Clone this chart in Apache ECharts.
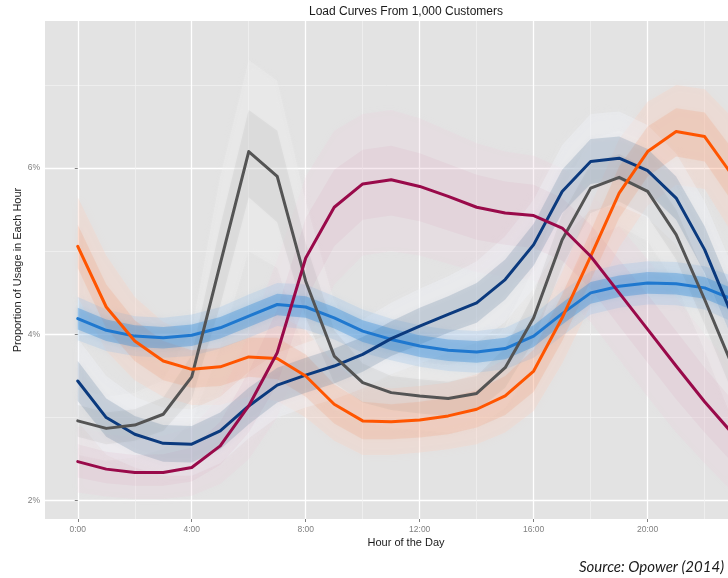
<!DOCTYPE html>
<html><head><meta charset="utf-8">
<script src="https://cdn.jsdelivr.net/npm/echarts@6/dist/echarts.min.js"></script>
<style>html,body{margin:0;padding:0;background:#fff}#c{width:728px;height:578px}</style>
</head><body><div id="c"></div>
<script>
// ---- data (percent of daily usage per hour) ----
const hours = [0,1,2,3,4,5,6,7,8,9,10,11,12,13,14,15,16,17,18,19,20,21,22,23];
const xTickValues = [0,4,8,12,16,20];
const xTickLabels = ['0:00','4:00','8:00','12:00','16:00','20:00'];
const xMinorValues = [2,6,10,14,18,22];
const yTickValues = [2,4,6];
const yTickLabels = ['2%','4%','6%'];
const yMinorValues = [3,5,7];

// main cluster curves
const orangeMain = [5.06,4.33,3.92,3.68,3.58,3.61,3.73,3.71,3.50,3.16,2.96,2.95,2.97,3.02,3.10,3.26,3.56,4.20,4.94,5.70,6.20,6.44,6.38,5.90];
const blueMain   = [4.19,4.05,3.98,3.96,3.99,4.08,4.22,4.36,4.33,4.20,4.04,3.94,3.86,3.81,3.79,3.83,3.98,4.25,4.50,4.58,4.62,4.61,4.56,4.42];
const navyMain   = [3.44,3.00,2.80,2.69,2.68,2.84,3.14,3.39,3.51,3.62,3.76,3.95,4.10,4.24,4.38,4.66,5.08,5.72,6.08,6.12,5.97,5.64,5.02,4.20];
const grayMain   = [2.96,2.87,2.91,3.04,3.49,4.85,6.20,5.90,4.64,3.74,3.42,3.30,3.26,3.23,3.29,3.60,4.20,5.14,5.76,5.89,5.72,5.20,4.42,3.60];
const crimsonMain= [2.47,2.38,2.34,2.34,2.40,2.66,3.14,3.78,4.92,5.53,5.81,5.86,5.78,5.66,5.53,5.46,5.43,5.28,4.94,4.50,4.06,3.62,3.19,2.80];

// spread of the individual customer curves (outer envelope)
const orangeHi = [5.65,4.95,4.45,4.15,4.00,4.05,4.20,4.25,4.05,3.65,3.40,3.35,3.38,3.42,3.52,3.70,4.05,4.75,5.55,6.35,6.80,7.00,6.95,6.60];
const orangeLo = [4.45,3.80,3.45,3.25,3.15,3.15,3.25,3.20,3.00,2.72,2.55,2.55,2.58,2.62,2.68,2.82,3.08,3.65,4.35,5.05,5.55,5.80,5.75,5.20];
const blueHi = [4.45,4.30,4.22,4.20,4.24,4.33,4.48,4.62,4.60,4.46,4.30,4.19,4.11,4.06,4.04,4.08,4.24,4.52,4.76,4.84,4.88,4.87,4.82,4.70];
const blueLo = [3.93,3.80,3.74,3.72,3.74,3.83,3.96,4.10,4.06,3.94,3.78,3.69,3.61,3.56,3.54,3.58,3.72,3.98,4.24,4.32,4.36,4.35,4.30,4.15];
const navyHi = [3.95,3.50,3.25,3.12,3.10,3.25,3.55,3.78,3.90,4.02,4.18,4.38,4.55,4.70,4.88,5.18,5.62,6.28,6.65,6.68,6.52,6.18,5.60,4.80];
const navyLo = [2.95,2.55,2.40,2.30,2.30,2.45,2.75,3.00,3.12,3.22,3.35,3.52,3.65,3.78,3.90,4.15,4.55,5.15,5.50,5.55,5.40,5.08,4.45,3.65];
const grayHi = [3.35,3.25,3.30,3.45,4.05,5.90,7.30,7.05,5.60,4.40,3.90,3.72,3.66,3.63,3.72,4.10,4.80,5.75,6.35,6.45,6.30,5.80,5.05,4.25];
const grayLo = [2.55,2.48,2.52,2.62,2.95,3.85,5.00,4.80,3.75,3.10,2.95,2.88,2.85,2.82,2.88,3.12,3.62,4.50,5.15,5.30,5.12,4.60,3.80,2.95];
const crimsonHi = [2.90,2.80,2.76,2.78,2.88,3.25,4.00,4.90,5.90,6.45,6.65,6.70,6.60,6.45,6.30,6.20,6.15,6.00,5.70,5.30,4.90,4.45,4.00,3.60];
const crimsonLo = [2.10,2.05,2.02,2.02,2.06,2.20,2.50,3.00,3.90,4.60,4.95,5.00,4.95,4.85,4.75,4.70,4.65,4.50,4.15,3.70,3.25,2.82,2.45,2.10];

// dense core of the individual curves
const orangeCoreHi = [5.32,4.60,4.17,3.92,3.81,3.84,3.96,3.96,3.76,3.40,3.19,3.16,3.19,3.24,3.33,3.50,3.82,4.48,5.24,6.02,6.50,6.72,6.67,6.22];
const orangeCoreLo = [4.80,4.07,3.68,3.45,3.36,3.38,3.49,3.46,3.25,2.93,2.74,2.74,2.76,2.80,2.88,3.03,3.31,3.92,4.65,5.40,5.90,6.14,6.08,5.58];
const blueCoreHi = [4.32,4.18,4.11,4.09,4.12,4.21,4.35,4.49,4.46,4.33,4.17,4.07,3.99,3.94,3.92,3.96,4.11,4.38,4.63,4.71,4.75,4.74,4.69,4.55];
const blueCoreLo = [4.06,3.92,3.85,3.83,3.86,3.95,4.09,4.23,4.20,4.07,3.91,3.81,3.73,3.68,3.66,3.70,3.85,4.12,4.37,4.45,4.49,4.48,4.43,4.29];
const navyCoreHi = [3.68,3.23,3.02,2.91,2.90,3.06,3.36,3.60,3.72,3.83,3.97,4.16,4.32,4.46,4.62,4.90,5.33,5.98,6.35,6.38,6.23,5.90,5.30,4.48];
const navyCoreLo = [3.20,2.77,2.58,2.47,2.46,2.62,2.92,3.18,3.30,3.41,3.55,3.74,3.88,4.02,4.14,4.42,4.83,5.46,5.81,5.86,5.71,5.38,4.74,3.92];
const grayCoreHi = [3.15,3.06,3.10,3.24,3.75,5.30,6.70,6.45,5.10,4.05,3.65,3.50,3.46,3.43,3.50,3.84,4.48,5.44,6.05,6.17,6.00,5.50,4.72,3.92];
const grayCoreLo = [2.77,2.68,2.72,2.84,3.22,4.35,5.65,5.35,4.20,3.42,3.18,3.09,3.05,3.02,3.08,3.36,3.92,4.82,5.46,5.60,5.42,4.90,4.12,3.28];
const crimsonCoreHi = [2.68,2.59,2.55,2.56,2.64,2.95,3.55,4.30,5.40,5.98,6.22,6.27,6.18,6.05,5.92,5.84,5.80,5.64,5.32,4.90,4.48,4.04,3.60,3.20];
const crimsonCoreLo = [2.28,2.21,2.18,2.18,2.23,2.43,2.82,3.40,4.42,5.06,5.38,5.43,5.36,5.25,5.14,5.08,5.04,4.89,4.55,4.10,3.66,3.22,2.82,2.45];

// ---- chart ----
const X_MIN = -1.15, X_MAX = 22.82, Y_MIN = 1.78, Y_MAX = 7.77;

function band(lo, hi, fill, blur, z) {
  return {
    type: 'custom', clip: true, silent: true, z: z, animation: false,
    data: [[0, lo[0]]],
    renderItem: function (params, api) {
      const pts = [];
      for (let i = 0; i < hours.length; i++) pts.push(api.coord([hours[i], hi[i]]));
      for (let i = hours.length - 1; i >= 0; i--) pts.push(api.coord([hours[i], lo[i]]));
      return { type: 'polygon', shape: { points: pts },
        style: { fill: fill, stroke: null, shadowBlur: blur, shadowColor: fill } };
    }
  };
}
function mainLine(vals, color, z) {
  return {
    type: 'line', data: hours.map((h, i) => [h, vals[i]]), symbol: 'none', showSymbol: false,
    clip: true, silent: true, z: z, animation: false,
    lineStyle: { color: color, width: 3, join: 'round', cap: 'round' }
  };
}

const chart = echarts.init(document.getElementById('c'), null, { renderer: 'canvas' });
const tickColor = '#808080';
chart.setOption({
  animation: false,
  backgroundColor: '#ffffff',
  grid: { left: 45, right: 0, top: 21, bottom: 59, show: true, backgroundColor: '#e3e3e3', borderWidth: 0 },
  xAxis: [
    { type: 'value', min: X_MIN, max: X_MAX,
      axisLine: { show: false },
      axisTick: { show: true, customValues: xTickValues, length: 3, lineStyle: { color: tickColor, width: 1 } },
      axisLabel: { customValues: xTickValues, formatter: v => xTickLabels[xTickValues.indexOf(v)], color: tickColor, fontSize: 8.5, fontFamily: 'Liberation Sans', margin: 6 },
      splitLine: { show: true, lineStyle: { color: '#ffffff', width: 1.3 } } },
    { type: 'value', min: X_MIN, max: X_MAX, position: 'bottom',
      axisLine: { show: false },
      axisTick: { show: false, customValues: xMinorValues },
      axisLabel: { show: false, customValues: xMinorValues },
      splitLine: { show: true, lineStyle: { color: '#f2f2f2', width: 0.7 } } }
  ],
  yAxis: [
    { type: 'value', min: Y_MIN, max: Y_MAX,
      axisLine: { show: false },
      axisTick: { show: true, customValues: yTickValues, length: 3, lineStyle: { color: tickColor, width: 1 } },
      axisLabel: { customValues: yTickValues, formatter: v => yTickLabels[yTickValues.indexOf(v)], color: tickColor, fontSize: 8.5, fontFamily: 'Liberation Sans', margin: 5 },
      splitLine: { show: true, lineStyle: { color: '#ffffff', width: 1.3 } } },
    { type: 'value', min: Y_MIN, max: Y_MAX, position: 'left',
      axisLine: { show: false },
      axisTick: { show: false, customValues: yMinorValues },
      axisLabel: { show: false, customValues: yMinorValues },
      splitLine: { show: true, lineStyle: { color: '#f2f2f2', width: 0.7 } } }
  ],
  graphic: [
    { type: 'text', x: 406, y: 12, style: { text: 'Load Curves From 1,000 Customers', font: '12px "Liberation Sans"', fill: '#1a1a1a', textAlign: 'center', textVerticalAlign: 'middle' } },
    { type: 'text', x: 406, y: 543, style: { text: 'Hour of the Day', font: '11px "Liberation Sans"', fill: '#1a1a1a', textAlign: 'center', textVerticalAlign: 'middle' } },
    { type: 'text', x: 18, y: 270, rotation: Math.PI / 2, style: { text: 'Proportion of Usage in Each Hour', font: '11px "Liberation Sans"', fill: '#1a1a1a', textAlign: 'center', textVerticalAlign: 'middle' } },
    { type: 'text', x: 724, y: 567, style: { text: 'Source: Opower (2014)', font: 'italic 15px Lato', fill: '#1a1a1a', textAlign: 'right', textVerticalAlign: 'middle' } }
  ],
  series: [
    band(crimsonLo, crimsonHi, 'rgba(238,205,218,0.20)', 8, 1),
    band(grayLo, grayHi, 'rgba(242,242,242,0.30)', 8, 1),
    band(orangeLo, orangeHi, 'rgba(250,205,185,0.28)', 8, 1),
    band(navyLo, navyHi, 'rgba(238,242,247,0.38)', 8, 1),
    band(blueLo, blueHi, 'rgba(160,195,232,0.30)', 6, 1),
    band(crimsonCoreLo, crimsonCoreHi, 'rgba(205,130,160,0.08)', 6, 2),
    band(grayCoreLo, grayCoreHi, 'rgba(125,125,125,0.10)', 6, 2),
    band(orangeCoreLo, orangeCoreHi, 'rgba(245,130,80,0.16)', 6, 2),
    band(navyCoreLo, navyCoreHi, 'rgba(75,110,145,0.20)', 6, 2),
    band(blueCoreLo, blueCoreHi, 'rgba(45,135,215,0.34)', 5, 2),
    mainLine(blueMain, '#1f78cf', 3),
    mainLine(navyMain, '#0b3a7e', 4),
    mainLine(grayMain, '#545454', 5),
    mainLine(orangeMain, '#ff5500', 6),
    mainLine(crimsonMain, '#990a4a', 7)
  ]
});
</script>
</body></html>
